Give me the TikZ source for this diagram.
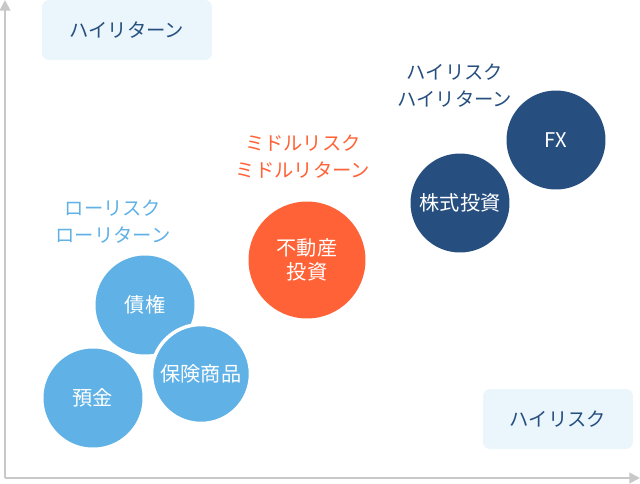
\documentclass[tikz,border=0pt]{standalone}
\usepackage{fontspec}
\setmainfont{Noto Sans CJK JP}
\usetikzlibrary{arrows.meta}

\definecolor{axisgray}{HTML}{C8C8C8}
\definecolor{boxblue}{HTML}{EAF5FC}
\definecolor{lowblue}{HTML}{5FB1E6}
\definecolor{midred}{HTML}{FF6236}
\definecolor{highnavy}{HTML}{264F7F}

\begin{document}
\begin{tikzpicture}[x=0.02cm, y=-0.02cm, >={Triangle[length=6pt, width=6pt]},
    axis/.style={draw=axisgray, line width=1.1pt},
    cornerbox/.style={fill=boxblue, rounded corners=4pt, minimum width=3cm, minimum height=1.2cm,
        text=highnavy, font=\fontsize{11}{13}\selectfont},
    tag/.style={align=center, font=\fontsize{11}{15.5}\selectfont},
    asset/.style={circle, inner sep=0pt, text=white, align=center,
        font=\fontsize{11.5}{13.5}\selectfont},
    small/.style={asset, minimum size=1.98cm},
    big/.style={asset, minimum size=2.34cm}]
    \useasboundingbox (0,0) rectangle (640,484);

    % 座標軸
    \coordinate (O) at (5,478);
    \coordinate (ytop) at (5,0);
    \coordinate (xend) at (640,478);
    \draw[axis, ->] (O) -- (ytop);
    \draw[axis, ->] (O) -- (xend);

    % 軸のラベル
    \node[cornerbox, minimum width=3.4cm] (hret) at (127,30) {ハイリターン};
    \node[cornerbox] (hrisk) at (558,419) {ハイリスク};

    % ローリスク
    \node[tag, text=lowblue] (low) at (113,222) {ローリスク\\ローリターン};
    \node[small, fill=lowblue] (bond) at (145,305) {債権};
    \node[small, fill=lowblue, draw=white, line width=2pt] (ins) at (201,374) {保険商品};
    \node[small, fill=lowblue] (dep) at (93,398) {預金};

    % ミドルリスク
    \node[tag, text=midred] (mid) at (303,157) {ミドルリスク\\ミドルリターン};
    \node[big, fill=midred] (estate) at (307,260) {不動産\\投資};

    % ハイリスク
    \node[tag, text=highnavy] (high) at (455,86) {ハイリスク\\ハイリターン};
    \node[small, fill=highnavy] (stock) at (460,203) {株式投資};
    \node[small, fill=highnavy] (fx) at (556,140) {FX};
\end{tikzpicture}
\end{document}
